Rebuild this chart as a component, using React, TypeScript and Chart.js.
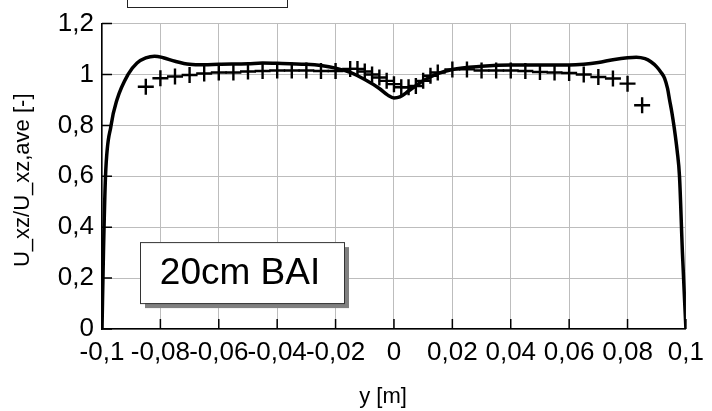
import { useEffect, useRef } from 'react';
import { Chart, registerables } from 'chart.js';

Chart.register(...registerables);

const FONT = "'Liberation Sans', Arial, sans-serif";

const xTicks = [-0.1, -0.08, -0.06, -0.04, -0.02, 0, 0.02, 0.04, 0.06, 0.08, 0.1];
const yTicks = [0, 0.2, 0.4, 0.6, 0.8, 1, 1.2];

const xTitle = 'y [m]';
const yTitle = 'U_xz/U_xz,ave [-]';
const boxLabel = '20cm BAI';

// Solid (simulation) curve
const curveX = [
  -0.1, -0.0995, -0.0988, -0.0969, -0.0949, -0.0911, -0.088, -0.085, -0.082, -0.079, -0.075,
  -0.07, -0.065, -0.06, -0.05, -0.045, -0.04, -0.03, -0.025, -0.02, -0.015, -0.01, -0.005,
  -0.002, 0, 0.002, 0.005, 0.01, 0.015, 0.02, 0.03, 0.04, 0.05, 0.06, 0.065, 0.07, 0.075,
  0.08, 0.083, 0.086, 0.088, 0.09, 0.0915, 0.0927, 0.0937, 0.0944, 0.0952, 0.096, 0.097,
  0.0978, 0.0988, 0.1,
];
const curveY = [
  0, 0.3, 0.6, 0.8, 0.9, 1.0, 1.045, 1.065, 1.072, 1.066, 1.052,
  1.04, 1.038, 1.04, 1.042, 1.045, 1.044, 1.04, 1.035, 1.025, 1.008, 0.98, 0.945,
  0.918, 0.908, 0.912, 0.935, 0.975, 1.003, 1.02, 1.032, 1.037, 1.037, 1.037, 1.04, 1.047, 1.058,
  1.066, 1.068, 1.062, 1.05, 1.03, 1.008, 0.985, 0.945, 0.9, 0.85, 0.79, 0.7,
  0.6, 0.3, 0,
];

// Measured points (crosses)
const crossX = [
  -0.085, -0.08, -0.075, -0.07, -0.065, -0.06, -0.055, -0.05, -0.045, -0.04, -0.035,
  -0.03, -0.025, -0.02, -0.015, -0.0125, -0.01, -0.0075, -0.005, -0.0025, 0, 0.0025,
  0.005, 0.0075, 0.01, 0.0125, 0.015, 0.02, 0.025, 0.03, 0.035, 0.04, 0.045, 0.05,
  0.055, 0.06, 0.065, 0.07, 0.075, 0.08, 0.085,
];
const crossY = [
  0.952, 0.985, 0.992, 0.998, 1.004, 1.008, 1.008, 1.012, 1.014, 1.016, 1.016,
  1.016, 1.014, 1.014, 1.022, 1.022, 1.012, 1.0, 0.988, 0.975, 0.962, 0.95,
  0.95, 0.955, 0.975, 0.995, 1.008, 1.02, 1.02, 1.016, 1.016, 1.016, 1.014, 1.01,
  1.008, 1.006, 1.0, 0.99, 0.984, 0.964, 0.879,
];

const fmt = (v: number) => String(Number(v.toFixed(3))).replace('.', ',');

const decor = {
  id: 'decor',
  beforeDatasetsDraw(chart: any) {
    const { ctx, chartArea, scales } = chart;
    const x = scales.x;
    const y = scales.y;
    ctx.save();
    ctx.strokeStyle = '#000';
    ctx.lineWidth = 1.5;
    ctx.beginPath();
    xTicks.forEach((v) => {
      const px = x.getPixelForValue(v);
      ctx.moveTo(px, chartArea.bottom);
      ctx.lineTo(px, chartArea.bottom - 10);
    });
    yTicks.forEach((v) => {
      const py = y.getPixelForValue(v);
      ctx.moveTo(chartArea.left, py);
      ctx.lineTo(chartArea.left + 10, py);
    });
    ctx.stroke();
    ctx.restore();
  },
  afterDraw(chart: any) {
    const { ctx, chartArea } = chart;
    ctx.save();
    // axis titles
    ctx.fillStyle = '#000';
    ctx.font = `22px ${FONT}`;
    ctx.textAlign = 'center';
    ctx.textBaseline = 'middle';
    ctx.fillText(xTitle, chartArea.left + 281, 397);
    ctx.save();
    ctx.translate(23, (chartArea.top + chartArea.bottom) / 2 + 4);
    ctx.rotate(-Math.PI / 2);
    ctx.fillText(yTitle, 0, 0);
    ctx.restore();

    // label box with shadow
    const bx = chartArea.left + 38;
    const by = chartArea.top + 218.5;
    const bw = 204;
    const bh = 61;
    ctx.fillStyle = '#808080';
    ctx.fillRect(bx + 5, by + 5, bw, bh);
    ctx.fillStyle = '#fff';
    ctx.fillRect(bx, by, bw, bh);
    ctx.strokeStyle = '#333';
    ctx.lineWidth = 1;
    ctx.strokeRect(bx + 0.5, by + 0.5, bw, bh);
    ctx.fillStyle = '#000';
    ctx.font = `37px ${FONT}`;
    ctx.fillText(boxLabel, bx + bw / 2 - 2, by + bh / 2 + 1);

    // clipped legend box at top
    ctx.fillStyle = '#fff';
    ctx.fillRect(127.5, -5, 160, 12.5);
    ctx.strokeStyle = '#222';
    ctx.strokeRect(127.5, -5, 160, 12.5);
    ctx.restore();
  },
};

export default function App() {
  const ref = useRef<HTMLCanvasElement>(null);

  useEffect(() => {
    document.body.style.margin = '0';
    const canvas = ref.current;
    if (!canvas) return;
    const chart = new Chart(canvas, {
      type: 'line',
      data: {
        datasets: [
          {
            label: 'measured',
            data: crossX.map((x, i) => ({ x, y: crossY[i] })),
            borderColor: '#000',
            pointStyle: 'cross',
            pointRadius: 8,
            pointBorderWidth: 2.4,
            pointBorderColor: '#000',
            pointBackgroundColor: '#000',
            showLine: false,
            fill: false,
          },
          {
            label: 'simulation',
            data: curveX.map((x, i) => ({ x, y: curveY[i] })),
            borderColor: '#000',
            borderWidth: 3.5,
            pointRadius: 0,
            fill: false,
            cubicInterpolationMode: 'monotone',
          },
        ],
      },
      options: {
        animation: false,
        responsive: true,
        maintainAspectRatio: false,
        layout: { padding: { top: 21, right: 22.5, left: 0, bottom: 0 } },
        plugins: {
          legend: { display: false },
          tooltip: { enabled: false },
        },
        scales: {
          x: {
            type: 'linear',
            min: -0.1,
            max: 0.1,
            afterBuildTicks: (s: any) => {
              s.ticks = xTicks.map((value) => ({ value }));
            },
            afterFit: (s: any) => {
              s.height = 82;
            },
            ticks: {
              color: '#000',
              font: { family: FONT, size: 26 },
              padding: 8,
              maxRotation: 0,
              autoSkip: false,
              callback: (v: any) => fmt(Number(v)),
            },
            grid: { color: '#bdbdbd', lineWidth: 1, drawTicks: false },
            border: { display: true, color: '#000', width: 1.5 },
          },
          y: {
            type: 'linear',
            min: 0,
            max: 1.2,
            afterBuildTicks: (s: any) => {
              s.ticks = yTicks.map((value) => ({ value }));
            },
            afterFit: (s: any) => {
              s.width = 102;
            },
            ticks: {
              color: '#000',
              font: { family: FONT, size: 26 },
              padding: 8,
              autoSkip: false,
              callback: (v: any) => fmt(Number(v)),
            },
            grid: { color: '#bdbdbd', lineWidth: 1, drawTicks: false },
            border: { display: true, color: '#000', width: 1.5 },
          },
        },
      },
      plugins: [decor],
    } as any);
    return () => chart.destroy();
  }, []);

  return (
    <div style={{ position: 'absolute', left: 0, top: 0, width: 712, height: 411 }}>
      <canvas ref={ref} />
    </div>
  );
}
